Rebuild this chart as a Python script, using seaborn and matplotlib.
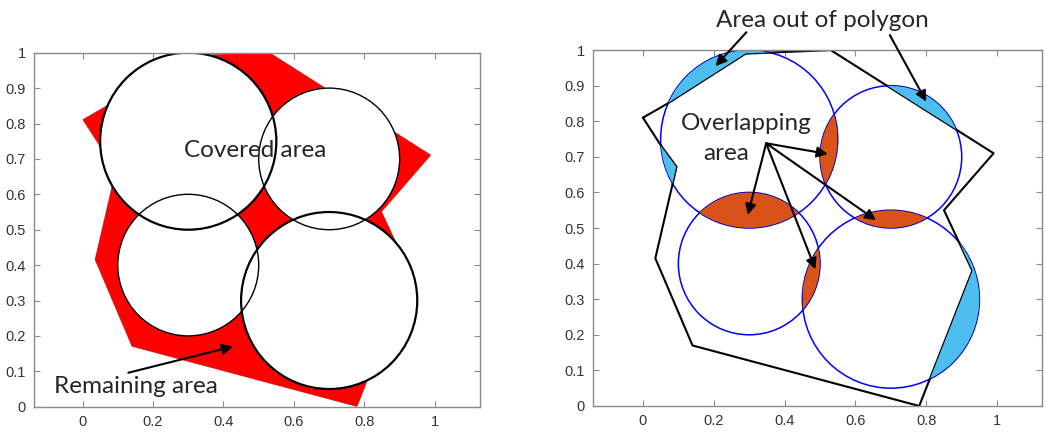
import numpy as np
import pandas as pd
import matplotlib
matplotlib.use("Agg")
import matplotlib.pyplot as plt
from matplotlib.path import Path
from matplotlib.patches import Circle
import seaborn as sns

# polygon (target region)
poly_x = [0.00, 0.07, 0.29, 0.53, 0.99, 0.85, 0.93, 0.78, 0.14, 0.035, 0.095, 0.052]
poly_y = [0.81, 0.85, 0.99, 1.00, 0.71, 0.55, 0.38, 0.00, 0.17, 0.415, 0.672, 0.73]

# sensor circles
circ_x = [0.3, 0.7, 0.3, 0.7]
circ_y = [0.75, 0.7, 0.4, 0.3]
circ_r = [0.25, 0.2, 0.2, 0.25]
circ_lw = [1.6, 1.0, 1.0, 1.6]

x_ticks = [0, 0.2, 0.4, 0.6, 0.8, 1]
y_ticks = [0, 0.1, 0.2, 0.3, 0.4, 0.5, 0.6, 0.7, 0.8, 0.9, 1]

RED = "#FF0000"
ORANGE = "#D95319"
CYAN = "#4DBEEE"
BLUE = "#0000FF"
FRAME = "#8a8a8a"

sns.set_style("white")
plt.rcParams["font.family"] = ["Liberation Sans", "DejaVu Sans"]
ANN_FONT = ["Lato", "DejaVu Sans"]
ANN_SIZE = 17.5

# raster grid for the filled regions
n = 1000
gx = np.linspace(-0.15, 1.15, n)
gy = np.linspace(-0.02, 1.12, n)
X, Y = np.meshgrid(gx, gy)
pts = np.column_stack([X.ravel(), Y.ravel()])
inside_poly = Path(np.column_stack([poly_x, poly_y])).contains_points(pts).reshape(X.shape)
in_circ = [((X - cx) ** 2 + (Y - cy) ** 2) <= r ** 2 for cx, cy, r in zip(circ_x, circ_y, circ_r)]
any_circ = np.any(in_circ, axis=0)
count = np.sum(in_circ, axis=0)


def rgba_layer(mask, color):
    img = np.zeros(mask.shape + (4,))
    img[mask] = matplotlib.colors.to_rgba(color)
    return img


fig = plt.figure(figsize=(10.45, 4.33), dpi=100)
ax1 = fig.add_axes([0.0328, 0.0607, 0.4265, 0.8176])
ax2 = fig.add_axes([0.5678, 0.0624, 0.4291, 0.822])

extent = [gx[0], gx[-1], gy[0], gy[-1]]

# left: remaining area
ax1.imshow(rgba_layer(inside_poly & ~any_circ, RED), extent=extent, origin="lower",
           interpolation="antialiased", aspect="auto", zorder=1)
for cx, cy, r, lw in zip(circ_x, circ_y, circ_r, circ_lw):
    ax1.add_patch(Circle((cx, cy), r, fill=False, ec="black", lw=lw, zorder=3))

# right: circles and polygon outline, then overlapping / out-of-polygon fills on top
for cx, cy, r in zip(circ_x, circ_y, circ_r):
    ax2.add_patch(Circle((cx, cy), r, fill=False, ec=BLUE, lw=1.1, zorder=2))
outline = pd.DataFrame({"x": poly_x + poly_x[:1], "y": poly_y + poly_y[:1]})
sns.lineplot(data=outline, x="x", y="y", sort=False, estimator=None, color="black",
             lw=1.5, ax=ax2, zorder=3)
ax2.imshow(rgba_layer(count >= 2, ORANGE), extent=extent, origin="lower",
           interpolation="antialiased", aspect="auto", zorder=4)
ax2.imshow(rgba_layer(any_circ & ~inside_poly, CYAN), extent=extent, origin="lower",
           interpolation="antialiased", aspect="auto", zorder=4)

for ax, xl in [(ax1, (-0.137, 1.128)), (ax2, (-0.14, 1.126))]:
    ax.set_xlim(*xl)
    ax.set_ylim(0, 1)
    ax.set_xticks(x_ticks)
    ax.set_xticklabels([f"{t:g}" for t in x_ticks])
    ax.set_yticks(y_ticks)
    ax.set_yticklabels([f"{t:g}" for t in y_ticks])
    ax.set_xlabel("")
    ax.set_ylabel("")
    ax.tick_params(direction="in", length=4, width=0.8, color=FRAME, labelcolor="#333333",
                   labelsize=10.5, top=True, right=True, bottom=True, left=True, pad=6)
    for s in ax.spines.values():
        s.set_color(FRAME)
        s.set_linewidth(1.0)
        s.set_visible(True)
        s.set_zorder(5)

arrow = dict(arrowstyle="-|>", color="black", lw=1.5, mutation_scale=16, shrinkA=0, shrinkB=0)

ax1.text(0.489, 0.725, "Covered area", ha="center", va="center", fontsize=ANN_SIZE,
         family=ANN_FONT, zorder=6)
ax1.text(0.151, 0.056, "Remaining area", ha="center", va="center", fontsize=ANN_SIZE,
         family=ANN_FONT, zorder=6)
ax1.annotate("", xy=(0.427, 0.17), xytext=(0.13, 0.096), arrowprops=arrow, zorder=6)

ax2.text(0.507, 1.082, "Area out of polygon", ha="center", va="center", fontsize=ANN_SIZE,
         family=ANN_FONT, clip_on=False)
ax2.annotate("", xy=(0.205, 0.955), xytext=(0.292, 1.05), arrowprops=arrow,
             annotation_clip=False, zorder=6)
ax2.annotate("", xy=(0.80, 0.855), xytext=(0.697, 1.042), arrowprops=arrow,
             annotation_clip=False, zorder=6)

ax2.text(0.291, 0.794, "Overlapping", ha="center", va="center", fontsize=ANN_SIZE,
         family=ANN_FONT, zorder=6)
ax2.text(0.235, 0.71, "area", ha="center", va="center", fontsize=ANN_SIZE,
         family=ANN_FONT, zorder=6)
src = (0.348, 0.738)
for head in [(0.522, 0.708), (0.296, 0.537), (0.658, 0.522), (0.487, 0.384)]:
    ax2.annotate("", xy=head, xytext=src, arrowprops=arrow, zorder=6)

fig.savefig("out.png", dpi=100)
